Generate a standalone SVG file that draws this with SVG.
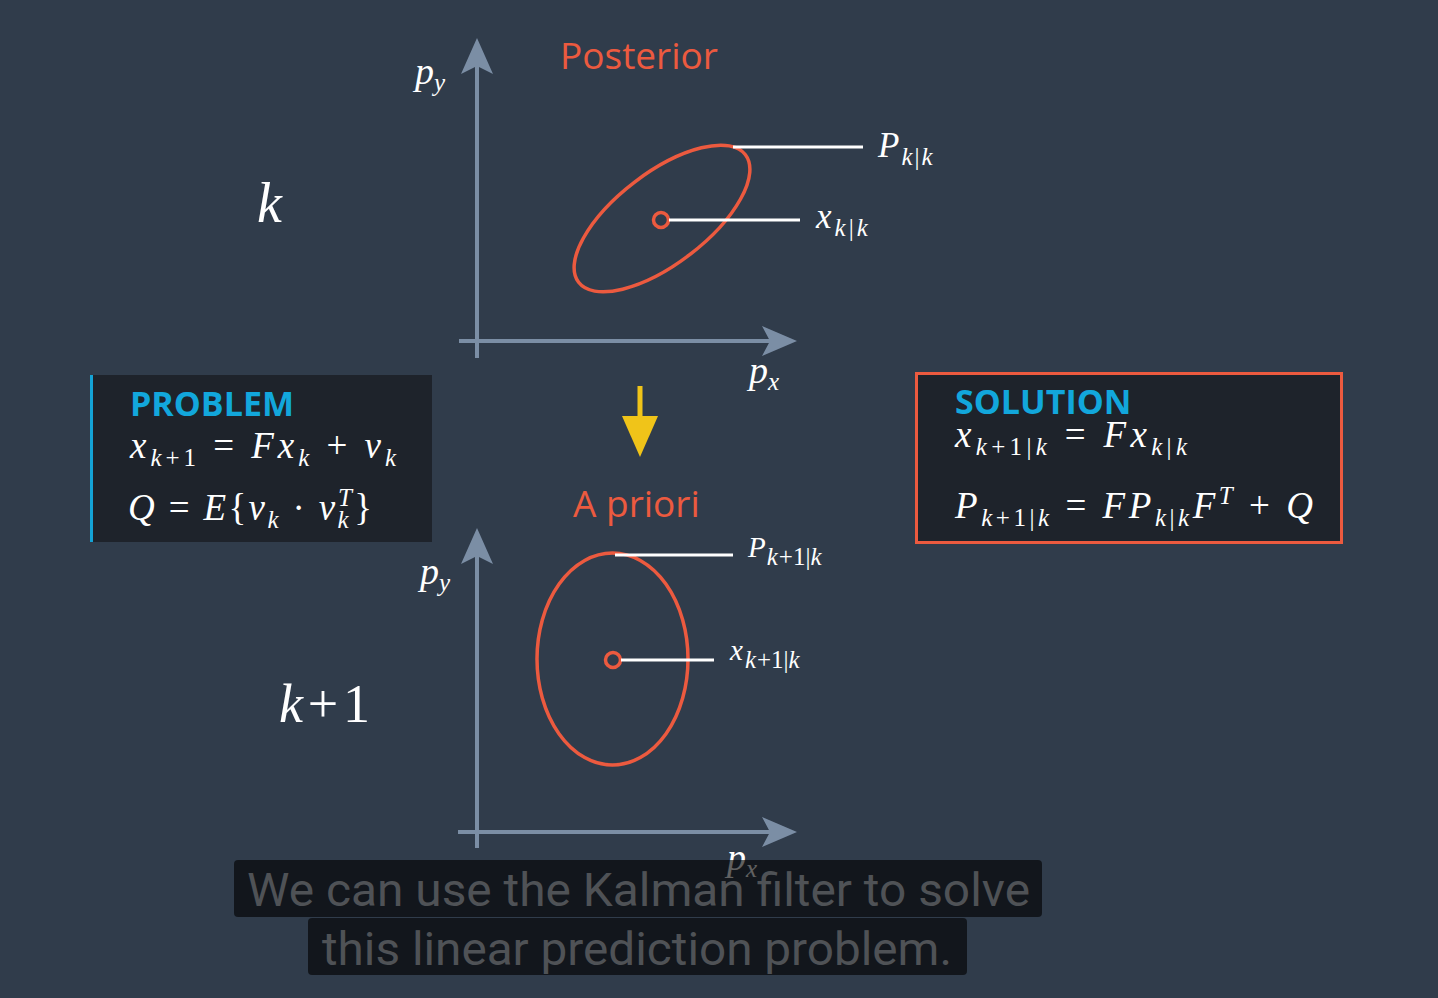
<svg xmlns="http://www.w3.org/2000/svg" width="1438" height="998" viewBox="0 0 1438 998">
<defs>
<style>
.m{font-family:"Liberation Serif","DejaVu Serif",serif;font-style:italic;fill:#ffffff}
.u{font-style:normal}
.s{font-size:25px}
.axis{stroke:#7b8ea5;stroke-width:4;fill:none}
.head{fill:#7b8ea5}
.ell{fill:none;stroke:#ec5a3f;stroke-width:3.5}
.lead{stroke:#ffffff;stroke-width:3}
.ttl{font-family:"Open Sans","Noto Sans",sans-serif;fill:#ec5a3f;font-size:37px}
.hd{font-family:"Open Sans","Noto Sans",sans-serif;font-weight:bold;fill:#12a7dc;font-size:34px}
.cap{font-family:Roboto,"Liberation Sans",sans-serif;font-size:47px;fill:#4f5256}
</style>
</defs>
<rect x="0" y="0" width="1438" height="998" fill="#303c4b"/>

<g id="axes-top">
<line class="axis" x1="477" y1="358" x2="477" y2="66"/>
<path class="head" d="M477,38 L493,74 L477,66 L461,74 Z"/>
<line class="axis" x1="459" y1="341" x2="770" y2="341"/>
<path class="head" d="M797,341 L762,326 L770,341 L762,356 Z"/>
<text class="m" x="415" y="84" font-size="38">p<tspan class="s" dy="7">y</tspan></text>
<text class="m" x="749" y="383" font-size="38">p<tspan class="s" dy="7">x</tspan></text>
</g>

<g id="label-k">
<text class="m" x="257" y="222" font-size="56">k</text>
</g>

<g id="posterior">
<text class="ttl" x="560" y="69">Posterior</text>
<ellipse class="ell" cx="662" cy="218.5" rx="105" ry="45.6" transform="rotate(-37.4 662 218.5)"/>
<circle cx="661" cy="220" r="7.5" fill="none" stroke="#ec5a3f" stroke-width="3.5"/>
</g>

<g id="label-Pkk">
<text class="m" x="878" y="157" font-size="35">P<tspan class="s" dx="2" dy="8">k</tspan><tspan class="s u" dx="2">|</tspan><tspan class="s" dx="2">k</tspan></text>
</g>
<g id="label-xkk">
<text class="m" x="816" y="228" font-size="35">x<tspan class="s" dx="3" dy="8">k</tspan><tspan class="s u" dx="3">|</tspan><tspan class="s" dx="3">k</tspan></text>
</g>

<g id="transition">
<line x1="640" y1="386" x2="640" y2="420" stroke="#f0c419" stroke-width="5"/>
<path d="M622,416 L658,416 L640,457 Z" fill="#f0c419"/>
</g>

<g id="problem">
<rect x="90" y="375" width="342" height="167" fill="#1e232b"/>
<line x1="91.5" y1="375" x2="91.5" y2="542" stroke="#14a3d6" stroke-width="3"/>
<text class="hd" x="130" y="416">PROBLEM</text>
<text class="m" x="130" y="458" font-size="37" textLength="266" lengthAdjust="spacing">x<tspan class="s" dy="8">k</tspan><tspan class="s u">+1</tspan><tspan class="u" dy="-8"> = </tspan>Fx<tspan class="s" dy="8">k</tspan><tspan class="u" dy="-8"> + </tspan>ν<tspan class="s" dy="8">k</tspan></text>
<text class="m" x="128" y="520" font-size="37" textLength="244" lengthAdjust="spacing">Q<tspan class="u"> = </tspan>E<tspan class="u">{</tspan>ν<tspan class="s" dy="8">k</tspan><tspan class="u" dy="-8"> · </tspan>ν<tspan class="s" dy="8">k</tspan><tspan class="s" dx="-13" dy="-22">T</tspan><tspan class="u" dy="14">}</tspan></text>
</g>

<g id="solution">
<rect x="916.5" y="373.5" width="425" height="169" fill="#1e232b" stroke="#ec5a3f" stroke-width="3"/>
<text class="hd" x="955" y="414">SOLUTION</text>
<text class="m" x="955" y="447" font-size="37" textLength="232" lengthAdjust="spacing">x<tspan class="s" dy="8">k</tspan><tspan class="s u">+1|</tspan><tspan class="s">k</tspan><tspan class="u" dy="-8"> = </tspan>Fx<tspan class="s" dy="8">k</tspan><tspan class="s u">|</tspan><tspan class="s">k</tspan></text>
<text class="m" x="955" y="518" font-size="37" textLength="358" lengthAdjust="spacing">P<tspan class="s" dy="8">k</tspan><tspan class="s u">+1|</tspan><tspan class="s">k</tspan><tspan class="u" dy="-8"> = </tspan>FP<tspan class="s" dy="8">k</tspan><tspan class="s u">|</tspan><tspan class="s">k</tspan><tspan dy="-8">F</tspan><tspan class="s" dy="-14">T</tspan><tspan class="u" dy="14"> + </tspan>Q</text>
</g>

<g id="axes-bottom">
<line class="axis" x1="477" y1="848" x2="477" y2="556"/>
<path class="head" d="M477,528 L493,564 L477,556 L461,564 Z"/>
<line class="axis" x1="458" y1="832" x2="770" y2="832"/>
<path class="head" d="M797,832 L762,817 L770,832 L762,847 Z"/>
<text class="m" x="420" y="584" font-size="38">p<tspan class="s" dy="7">y</tspan></text>
<text class="m" x="727" y="870" font-size="38">p<tspan class="s" dy="7">x</tspan></text>
</g>

<g id="label-k1">
<text class="m" x="279" y="722" font-size="54" textLength="91" lengthAdjust="spacing">k<tspan class="u">+1</tspan></text>
</g>

<g id="apriori">
<text class="ttl" x="573" y="517">A priori</text>
<ellipse class="ell" cx="612.5" cy="659" rx="75.5" ry="106"/>
<circle cx="613" cy="660" r="7.5" fill="none" stroke="#ec5a3f" stroke-width="3.5"/>
</g>

<g id="label-Pk1k">
<text class="m" x="748" y="557" font-size="29">P<tspan class="s" dx="1" dy="8">k</tspan><tspan class="s u" dx="1">+1|</tspan><tspan class="s">k</tspan></text>
</g>
<g id="label-xk1k">
<text class="m" x="730" y="660" font-size="29">x<tspan class="s" dx="2" dy="8">k</tspan><tspan class="s u" dx="1">+1|</tspan><tspan class="s">k</tspan></text>
</g>

<g id="connectors">
<line class="lead" x1="733" y1="147" x2="863" y2="147"/>
<line class="lead" x1="669" y1="220" x2="800" y2="220"/>
<line class="lead" x1="615" y1="555" x2="733" y2="555"/>
<line class="lead" x1="621" y1="660" x2="714" y2="660"/>
</g>

<g id="caption">
<rect x="234" y="860" width="808" height="57" rx="4" fill="#000000" fill-opacity="0.62"/>
<rect x="308" y="918" width="659" height="57" rx="4" fill="#000000" fill-opacity="0.62"/>
<text class="cap" x="247" y="906" textLength="783" lengthAdjust="spacingAndGlyphs">We can use the Kalman filter to solve</text>
<text class="cap" x="322" y="965" textLength="630" lengthAdjust="spacingAndGlyphs">this linear prediction problem.</text>
</g>
</svg>
